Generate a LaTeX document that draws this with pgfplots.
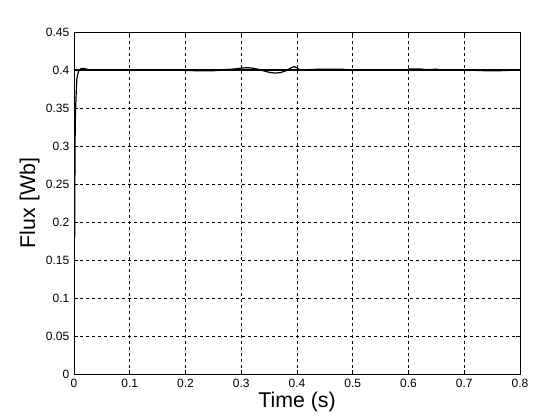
\documentclass[border=0pt]{standalone}
\usepackage{fontspec}
\setmainfont{Liberation Sans}
\usepackage{pgfplots}
\pgfplotsset{compat=1.18}
\begin{document}
\begin{tikzpicture}
\useasboundingbox (-55.5pt,-34.5pt) rectangle (364.5pt,280.5pt);
\begin{axis}[
  scale only axis, width=334.5pt, height=256.5pt,
  xmin=0, xmax=0.8, ymin=0, ymax=0.45,
  xtick={0,0.1,...,0.8}, ytick={0,0.05,...,0.45},
  xticklabels={0,0.1,0.2,0.3,0.4,0.5,0.6,0.7,0.8},
  yticklabels={0,0.05,0.1,0.15,0.2,0.25,0.3,0.35,0.4,0.45},
  tick align=inside, tick pos=both,
  major tick length=3pt,
  grid=major,
  major grid style={black, thin, dash pattern=on 2.25pt off 2.25pt},
  axis line style={black, thin},
  tick style={black, thin},
  ticklabel style={font=\fontsize{9}{10}\selectfont},
  xlabel={Time (s)}, ylabel={Flux [Wb]},
  label style={font=\fontsize{16}{18}\selectfont},
  xlabel style={yshift=3pt},
  ylabel style={yshift=-2pt},
]
\addplot[black, line width=1.1pt] coordinates {(0,0.4) (0.8,0.4)};
\addplot[black, line width=0.9pt] coordinates {
(0.0013,0.18) (0.0016,0.26) (0.0022,0.33) (0.003,0.35) (0.004,0.37)
(0.005,0.387) (0.006,0.392) (0.008,0.398) (0.010,0.400) (0.012,0.4015)
(0.015,0.402) (0.018,0.402) (0.021,0.4015) (0.025,0.4005) (0.03,0.4)
(0.1,0.4) (0.19,0.4) (0.2,0.3995) (0.22,0.399) (0.25,0.399) (0.26,0.3995)
(0.27,0.4005) (0.28,0.401) (0.29,0.4015) (0.30,0.4025) (0.31,0.403) (0.32,0.4025)
(0.33,0.401) (0.34,0.399) (0.35,0.397) (0.36,0.396) (0.37,0.3965) (0.38,0.399)
(0.39,0.403) (0.395,0.4045) (0.40,0.403) (0.405,0.4) (0.41,0.4) (0.42,0.4005)
(0.44,0.401) (0.48,0.401) (0.50,0.4) (0.55,0.4) (0.56,0.3995) (0.59,0.3995)
(0.599,0.3995) (0.60,0.4015) (0.62,0.4015) (0.63,0.4005) (0.65,0.401) (0.66,0.4)
(0.70,0.4) (0.72,0.3995) (0.74,0.399) (0.76,0.399) (0.78,0.3995) (0.79,0.4) (0.8,0.4)
};
\end{axis}
\end{tikzpicture}
\end{document}
